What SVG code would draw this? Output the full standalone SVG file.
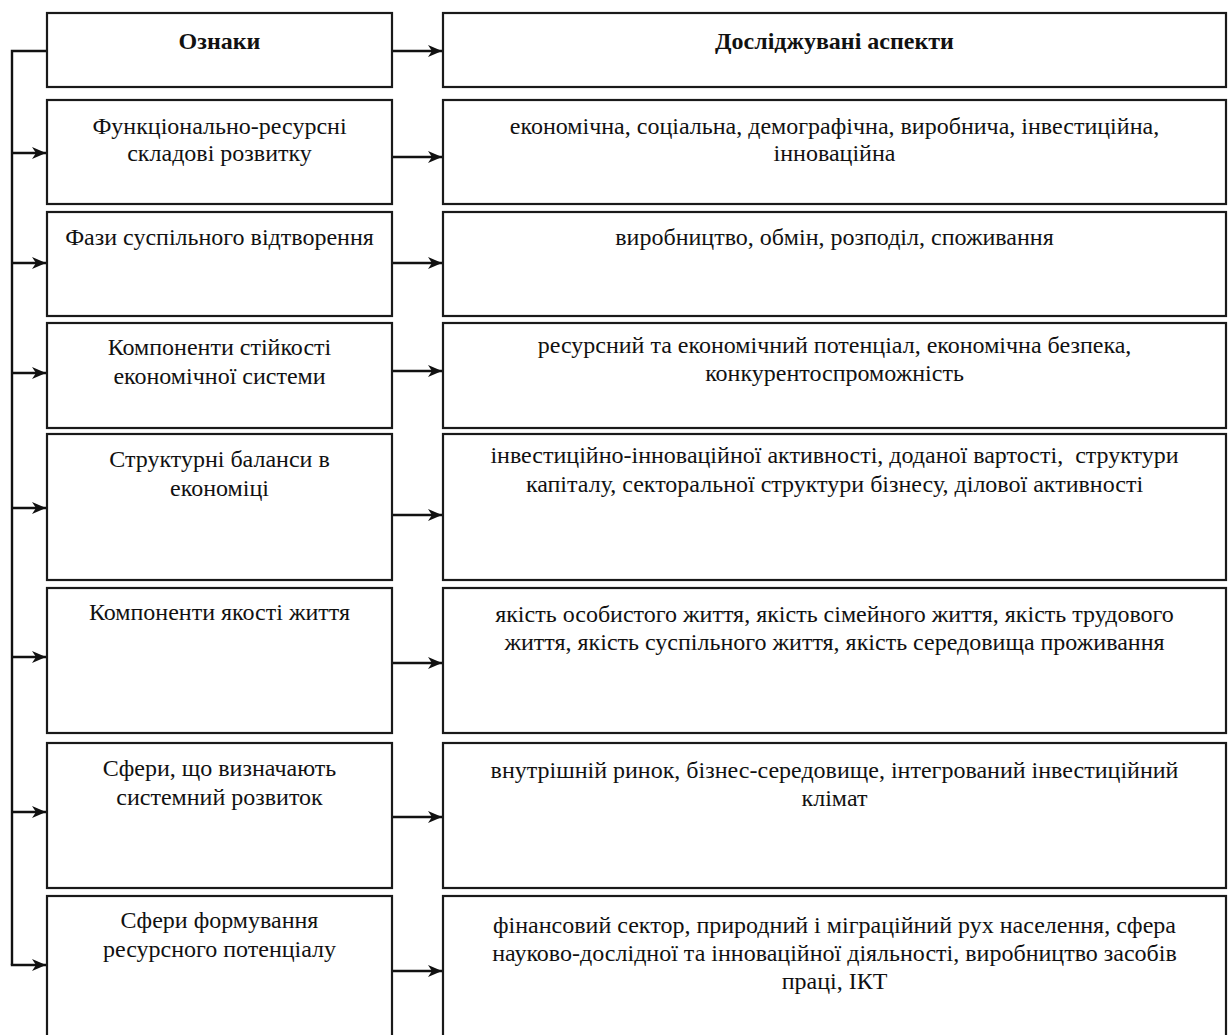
<svg xmlns="http://www.w3.org/2000/svg" width="1228" height="1035" viewBox="0 0 1228 1035">
<style>
.box{fill:#fff;stroke:#1a1a1a;stroke-width:2.2}
.t{font-family:"Liberation Serif","Times New Roman",serif;font-size:24px;fill:#111;text-anchor:middle}
.b{font-weight:bold}
.c{fill:none;stroke:#111;stroke-width:2.4}
</style>
<defs>
<marker id="ah" markerUnits="userSpaceOnUse" markerWidth="16" markerHeight="14" refX="14" refY="7" orient="auto">
<path d="M0,1 L14,7 L0,13 L4,7 z" fill="#111"/>
</marker>
</defs>
<rect width="1228" height="1035" fill="#fff"/>

<g id="connectors">
<polyline class="c" points="47,51 12,51 12,965"/>
<line class="c" x1="12" y1="153" x2="46" y2="153" marker-end="url(#ah)"/>
<line class="c" x1="12" y1="263" x2="46" y2="263" marker-end="url(#ah)"/>
<line class="c" x1="12" y1="373" x2="46" y2="373" marker-end="url(#ah)"/>
<line class="c" x1="12" y1="508" x2="46" y2="508" marker-end="url(#ah)"/>
<line class="c" x1="12" y1="657" x2="46" y2="657" marker-end="url(#ah)"/>
<line class="c" x1="12" y1="812" x2="46" y2="812" marker-end="url(#ah)"/>
<line class="c" x1="10.8" y1="965" x2="46" y2="965" marker-end="url(#ah)"/>
<line class="c" x1="392" y1="51" x2="442" y2="51" marker-end="url(#ah)"/>
<line class="c" x1="392" y1="157" x2="442" y2="157" marker-end="url(#ah)"/>
<line class="c" x1="392" y1="263" x2="442" y2="263" marker-end="url(#ah)"/>
<line class="c" x1="392" y1="371" x2="442" y2="371" marker-end="url(#ah)"/>
<line class="c" x1="392" y1="515" x2="442" y2="515" marker-end="url(#ah)"/>
<line class="c" x1="392" y1="663" x2="442" y2="663" marker-end="url(#ah)"/>
<line class="c" x1="392" y1="817" x2="442" y2="817" marker-end="url(#ah)"/>
<line class="c" x1="392" y1="971" x2="442" y2="971" marker-end="url(#ah)"/>
</g>

<g id="sign-header">
<rect class="box" x="47" y="13" width="345" height="74"/>
<text class="t b" x="219.5" y="49">Ознаки</text>
</g>
<g id="aspect-header">
<rect class="box" x="443" y="13" width="783" height="74"/>
<text class="t b" x="834.5" y="49">Досліджувані аспекти</text>
</g>

<g id="sign-1">
<rect class="box" x="47" y="100" width="345" height="104"/>
<text class="t" x="219.5" y="134">Функціонально-ресурсні</text>
<text class="t" x="219.5" y="161">складові розвитку</text>
</g>
<g id="aspect-1">
<rect class="box" x="443" y="100" width="783" height="104"/>
<text class="t" x="834.5" y="134">економічна, соціальна, демографічна, виробнича, інвестиційна,</text>
<text class="t" x="834.5" y="161">інноваційна</text>
</g>

<g id="sign-2">
<rect class="box" x="47" y="212" width="345" height="104"/>
<text class="t" x="219.5" y="245">Фази суспільного відтворення</text>
</g>
<g id="aspect-2">
<rect class="box" x="443" y="212" width="783" height="104"/>
<text class="t" x="834.5" y="245">виробництво, обмін, розподіл, споживання</text>
</g>

<g id="sign-3">
<rect class="box" x="47" y="323" width="345" height="105"/>
<text class="t" x="219.5" y="355">Компоненти стійкості</text>
<text class="t" x="219.5" y="384">економічної системи</text>
</g>
<g id="aspect-3">
<rect class="box" x="443" y="323" width="783" height="105"/>
<text class="t" x="834.5" y="353">ресурсний та економічний потенціал, економічна безпека,</text>
<text class="t" x="834.5" y="381">конкурентоспроможність</text>
</g>

<g id="sign-4">
<rect class="box" x="47" y="434" width="345" height="146"/>
<text class="t" x="219.5" y="467">Структурні баланси в</text>
<text class="t" x="219.5" y="496">економіці</text>
</g>
<g id="aspect-4">
<rect class="box" x="443" y="434" width="783" height="146"/>
<text class="t" x="834.5" y="463" xml:space="preserve">інвестиційно-інноваційної активності, доданої вартості,  структури</text>
<text class="t" x="834.5" y="492">капіталу, секторальної структури бізнесу, ділової активності</text>
</g>

<g id="sign-5">
<rect class="box" x="47" y="588" width="345" height="145"/>
<text class="t" x="219.5" y="620">Компоненти якості життя</text>
</g>
<g id="aspect-5">
<rect class="box" x="443" y="588" width="783" height="145"/>
<text class="t" x="834.5" y="622">якість особистого життя, якість сімейного життя, якість трудового</text>
<text class="t" x="834.5" y="650">життя, якість суспільного життя, якість середовища проживання</text>
</g>

<g id="sign-6">
<rect class="box" x="47" y="743" width="345" height="145"/>
<text class="t" x="219.5" y="776">Сфери, що визначають</text>
<text class="t" x="219.5" y="805">системний розвиток</text>
</g>
<g id="aspect-6">
<rect class="box" x="443" y="743" width="783" height="145"/>
<text class="t" x="834.5" y="778">внутрішній ринок, бізнес-середовище, інтегрований інвестиційний</text>
<text class="t" x="834.5" y="806">клімат</text>
</g>

<g id="sign-7">
<rect class="box" x="47" y="896" width="345" height="150"/>
<text class="t" x="219.5" y="928">Сфери формування</text>
<text class="t" x="219.5" y="957">ресурсного потенціалу</text>
</g>
<g id="aspect-7">
<rect class="box" x="443" y="896" width="783" height="150"/>
<text class="t" x="834.5" y="933">фінансовий сектор, природний і міграційний рух населення, сфера</text>
<text class="t" x="834.5" y="961">науково-дослідної та інноваційної діяльності, виробництво засобів</text>
<text class="t" x="834.5" y="989">праці, ІКТ</text>
</g>
</svg>
